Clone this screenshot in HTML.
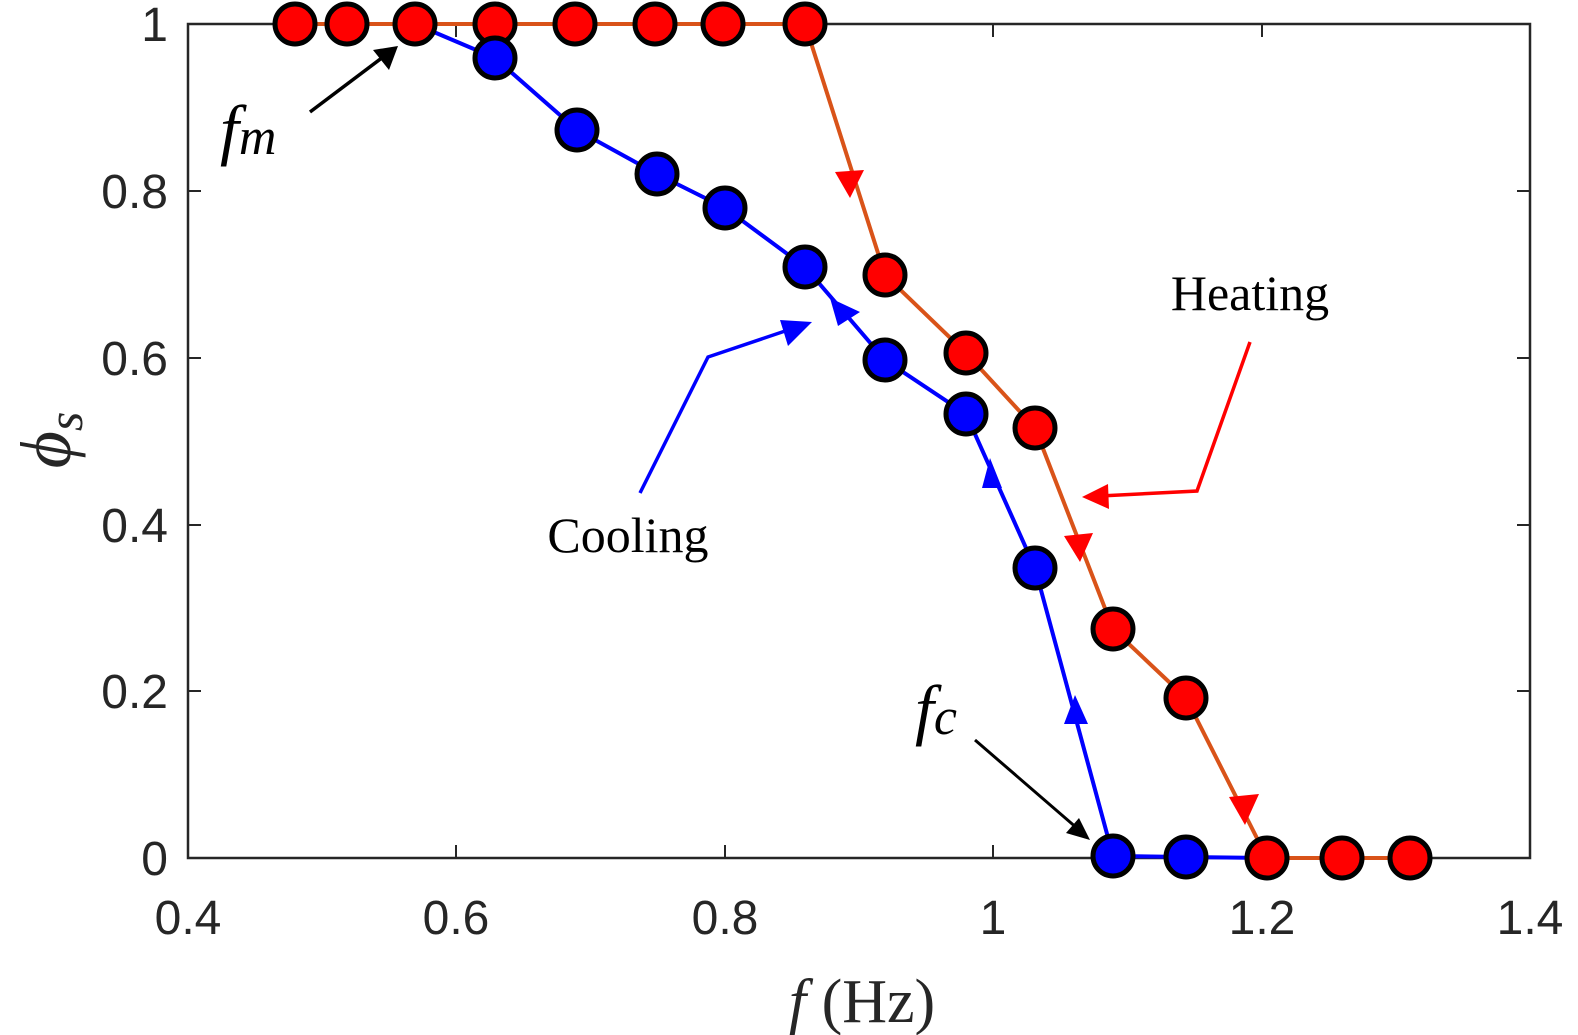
<!DOCTYPE html>
<html><head><meta charset="utf-8"><style>body{margin:0;background:#fff}svg{display:block}</style></head><body>
<svg width="1578" height="1035" viewBox="0 0 1578 1035" xmlns="http://www.w3.org/2000/svg">
<rect x="188" y="24" width="1342" height="834" fill="none" stroke="#262626" stroke-width="2.5"/>
<g stroke="#262626" stroke-width="2">
<line x1="456" y1="858" x2="456" y2="845"/><line x1="725" y1="858" x2="725" y2="845"/><line x1="993" y1="858" x2="993" y2="845"/><line x1="1262" y1="858" x2="1262" y2="845"/>
<line x1="456" y1="24" x2="456" y2="37"/><line x1="725" y1="24" x2="725" y2="37"/><line x1="993" y1="24" x2="993" y2="37"/><line x1="1262" y1="24" x2="1262" y2="37"/>
<line x1="188" y1="691" x2="201" y2="691"/><line x1="188" y1="525" x2="201" y2="525"/><line x1="188" y1="358" x2="201" y2="358"/><line x1="188" y1="191" x2="201" y2="191"/>
<line x1="1530" y1="691" x2="1517" y2="691"/><line x1="1530" y1="525" x2="1517" y2="525"/><line x1="1530" y1="358" x2="1517" y2="358"/><line x1="1530" y1="191" x2="1517" y2="191"/>
</g>
<g font-family="Liberation Sans, sans-serif" font-size="48" fill="#262626" text-anchor="middle">
<text x="188" y="934">0.4</text><text x="456" y="934">0.6</text><text x="725" y="934">0.8</text><text x="993" y="934">1</text><text x="1262" y="934">1.2</text><text x="1530" y="934">1.4</text>
</g>
<g font-family="Liberation Sans, sans-serif" font-size="48" fill="#262626" text-anchor="end">
<text x="168" y="875">0</text><text x="168" y="708">0.2</text><text x="168" y="542">0.4</text><text x="168" y="375">0.6</text><text x="168" y="208">0.8</text><text x="168" y="41">1</text>
</g>
<text x="862" y="1022" font-family="Liberation Serif, serif" font-size="62" text-anchor="middle" fill="#262626"><tspan font-style="italic">f</tspan> (Hz)</text>
<text transform="translate(70,440) rotate(-90)" font-family="Liberation Serif, serif" font-size="72" font-style="italic" text-anchor="middle" fill="#262626">ϕ<tspan font-size="50" dy="12">s</tspan></text>
<polyline fill="none" stroke="#d95319" stroke-width="4" points="295,24 805,24 885,275 966,353 1035,428 1113,629 1186,698 1267,858 1410,858"/>
<polyline fill="none" stroke="#0000ff" stroke-width="4" points="415,24 495,58 577,130 657,174 725,208 805,267 885,360 966,414 1035,568 1113,856 1186,857 1267,858"/>
<g fill="#ff0000"><path d="M850,198 L835,172 L864,170z"/><path d="M1080,562 L1064,536 L1093,533z"/><path d="M1245,825 L1229,797 L1259,794z"/></g>
<g fill="#0000ff"><path d="M830,298 L860,312 L838,326z"/><path d="M990,458 L1002,488 L982,488z"/><path d="M1075,695 L1088,724 L1064,724z"/></g>
<g stroke-width="3.5" fill="none">
<polyline stroke="#0000ff" points="640,493 708,357 800,326"/><path d="M812,322 L788,346 L780,320z" fill="#0000ff" stroke="none"/>
<polyline stroke="#ff0000" points="1250,342 1197,491 1100,496"/><path d="M1082,497 L1108,484 L1109,509z" fill="#ff0000" stroke="none"/>
<line stroke="#000" x1="310" y1="112" x2="383" y2="57"/><path d="M398,46 L389,70 L373,50z" fill="#000"/>
<line stroke="#000" stroke-width="3" x1="975" y1="740" x2="1078" y2="829"/><path d="M1090,840 L1066,833 L1079,818z" fill="#000"/>
</g>
<g stroke="#000" stroke-width="5">
<g fill="#ff0000"><circle cx="295" cy="24" r="20"/><circle cx="347" cy="24" r="20"/><circle cx="415" cy="24" r="20"/><circle cx="495" cy="24" r="20"/><circle cx="575" cy="24" r="20"/><circle cx="655" cy="24" r="20"/><circle cx="723" cy="24" r="20"/><circle cx="805" cy="24" r="20"/></g>
<g fill="#0000ff"><circle cx="495" cy="58" r="20"/><circle cx="577" cy="130" r="20"/><circle cx="657" cy="174" r="20"/><circle cx="725" cy="208" r="20"/><circle cx="805" cy="267" r="20"/><circle cx="885" cy="360" r="20"/><circle cx="966" cy="414" r="20"/><circle cx="1035" cy="568" r="20"/><circle cx="1113" cy="856" r="20"/><circle cx="1186" cy="857" r="20"/></g>
<g fill="#ff0000"><circle cx="885" cy="275" r="20"/><circle cx="966" cy="353" r="20"/><circle cx="1035" cy="428" r="20"/><circle cx="1113" cy="629" r="20"/><circle cx="1186" cy="698" r="20"/><circle cx="1267" cy="858" r="20"/><circle cx="1342" cy="858" r="20"/><circle cx="1410" cy="858" r="20"/></g>
</g>
<g font-family="Liberation Serif, serif" fill="#000">
<text x="1250" y="310" font-size="50" text-anchor="middle">Heating</text>
<text x="628" y="552" font-size="50" text-anchor="middle">Cooling</text>
<text x="220" y="152" font-size="68" font-style="italic">f<tspan font-size="52" dy="2">m</tspan></text>
<text x="915" y="732" font-size="68" font-style="italic">f<tspan font-size="52" dy="2">c</tspan></text>
</g>
</svg>
</body></html>
